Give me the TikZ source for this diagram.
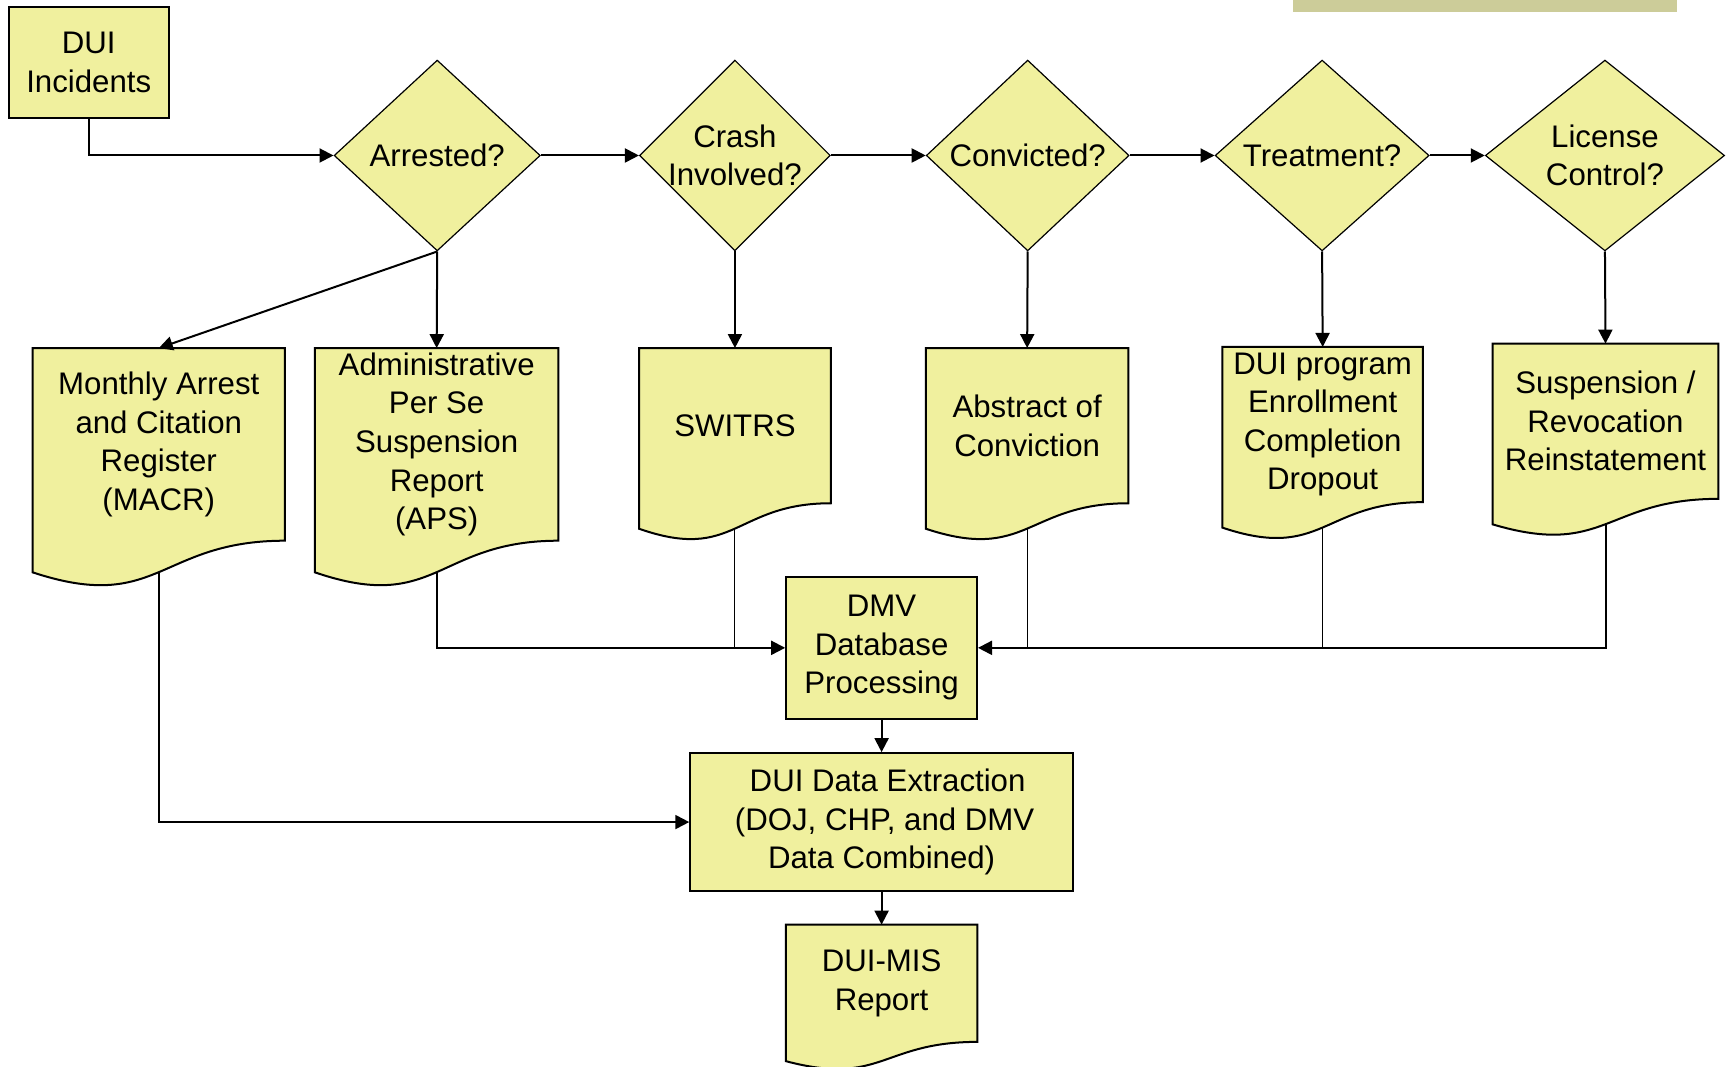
\documentclass[tikz,border=0pt]{standalone}
\usepackage{fontspec}
\setmainfont{Liberation Sans}
\usepackage{tikz}
\usetikzlibrary{arrows.meta,shapes.geometric,calc}
\definecolor{duiyellow}{RGB}{240,240,158}
\definecolor{barkhaki}{RGB}{204,204,153}
\pgfdeclarelayer{background}
\pgfsetlayers{background,main}
\tikzstyle{es} = [line width=1pt,-{Triangle[length=7pt,width=7pt]}]
\tikzstyle{feed} = [line width=0.5pt]
\tikzstyle{box} = [rectangle,draw,line width=1pt,fill=duiyellow,align=center,inner sep=0pt]
\tikzstyle{decision} = [diamond,draw,line width=0.6pt,fill=duiyellow,inner sep=0pt,minimum height=95.4pt]
\tikzstyle{doc} = [rectangle,align=center,inner sep=0pt]
\tikzstyle{docline} = [line width=1pt,draw=black,fill=duiyellow]

\begin{document}
\begin{tikzpicture}[x=0.5513pt,y=-0.5513pt,font=\fontsize{15.6}{19.3}\selectfont]
			\useasboundingbox (0,0) rectangle (1568,967);
			\fill[barkhaki] (1173,0) rectangle (1521,11);
			% start and decisions
			\node[box,minimum width=79.9pt,minimum height=55.7pt] (inc) at (80.5,56.5) {DUI\\Incidents};
			\node[decision,minimum width=103.1pt,label={[align=center]center:Arrested?}] (arrested) at (396.5,141) {};
			\node[decision,minimum width=95.4pt,label={[align=center]center:Crash\\Involved?}] (crash) at (666.5,141) {};
			\node[decision,minimum width=101.4pt,label={[align=center]center:Convicted?}] (convicted) at (932,141) {};
			\node[decision,minimum width=107pt,label={[align=center]center:Treatment?}] (treat) at (1199,141) {};
			\node[decision,minimum width=119.6pt,label={[align=center]center:License\\Control?}] (lic) at (1455.5,141) {};
			% documents
			\node[doc,minimum width=125.7pt,minimum height=95.9pt] (macr) at (144,403) {Monthly Arrest\\and Citation\\Register\\(MACR)};
			\node[doc,minimum width=121.3pt,minimum height=95.9pt] (aps) at (396,403) {Administrative\\Per Se\\Suspension\\Report\\(APS)};
			\node[doc,minimum width=95.4pt,minimum height=77.2pt] (switrs) at (666.5,386) {SWITRS};
			\node[doc,minimum width=100.9pt,minimum height=77.2pt] (abstr) at (931.5,386) {Abstract of\\Conviction};
			\node[doc,minimum width=99.8pt,minimum height=77.2pt] (prog) at (1199.5,385) {DUI program\\Enrollment\\Completion\\Dropout};
			\node[doc,minimum width=112.5pt,minimum height=77.2pt] (susp) at (1456,382) {Suspension /\\Revocation\\Reinstatement};
			\node[doc,minimum width=95.4pt,minimum height=58.2pt] (report) at (799.5,891.7) {DUI-MIS\\Report};
			% processing
			\node[box,minimum width=95.4pt,minimum height=71.1pt] (dmv) at (799.5,587.5) {DMV\\Database\\Processing};
			\node[box,minimum width=191.3pt,minimum height=68.9pt] (extr) at (799.5,745.5) {\hspace*{6pt}DUI Data Extraction\\\hspace*{3pt}(DOJ, CHP, and DMV\\Data Combined)};
			\begin{pgfonlayer}{background}
			\foreach \d in {macr,aps,switrs,abstr,prog,susp,report} {
				\path[docline] let \p1=($(\d.north)-(\d.south)$) in
					(\d.north west) -- (\d.north east) -- (\d.south east)
					.. controls (\d.south) and ($(\d.south)+(0,-0.381*\y1)$) .. ($(\d.south west)+(0,-0.1643*\y1)$) -- cycle;
				\path let \p1=($(\d.north)-(\d.south)$) in
					coordinate (\d-out) at ($(\d.south)+(0,-0.163*\y1)$);
			}
			\end{pgfonlayer}
			% connectors
			\draw[es] (inc.south) |- (arrested.west);
			\draw[es] (arrested.east) -- (crash.west);
			\draw[es] (crash.east) -- (convicted.west);
			\draw[es] (convicted.east) -- (treat.west);
			\draw[es] (treat.east) -- (lic.west);
			\draw[es] (arrested.south) -- (macr.north);
			\draw[es] (arrested.south) -- (aps.north);
			\draw[es] (crash.south) -- (switrs.north);
			\draw[es] (convicted.south) -- (abstr.north);
			\draw[es] (treat.south) -- (prog.north);
			\draw[es] (lic.south) -- (susp.north);
			\draw[es] (aps-out) |- (dmv.west);
			\draw[feed] (switrs-out) -- (switrs-out |- dmv.west);
			\draw[es] (susp-out) |- (dmv.east);
			\draw[feed] (abstr-out) -- (abstr-out |- dmv.east);
			\draw[feed] (prog-out) -- (prog-out |- dmv.east);
			\draw[es] (dmv) -- (extr);
			\draw[es] (macr-out) |- (extr.west);
			\draw[es] (extr) -- (report);
		\end{tikzpicture}
\end{document}
